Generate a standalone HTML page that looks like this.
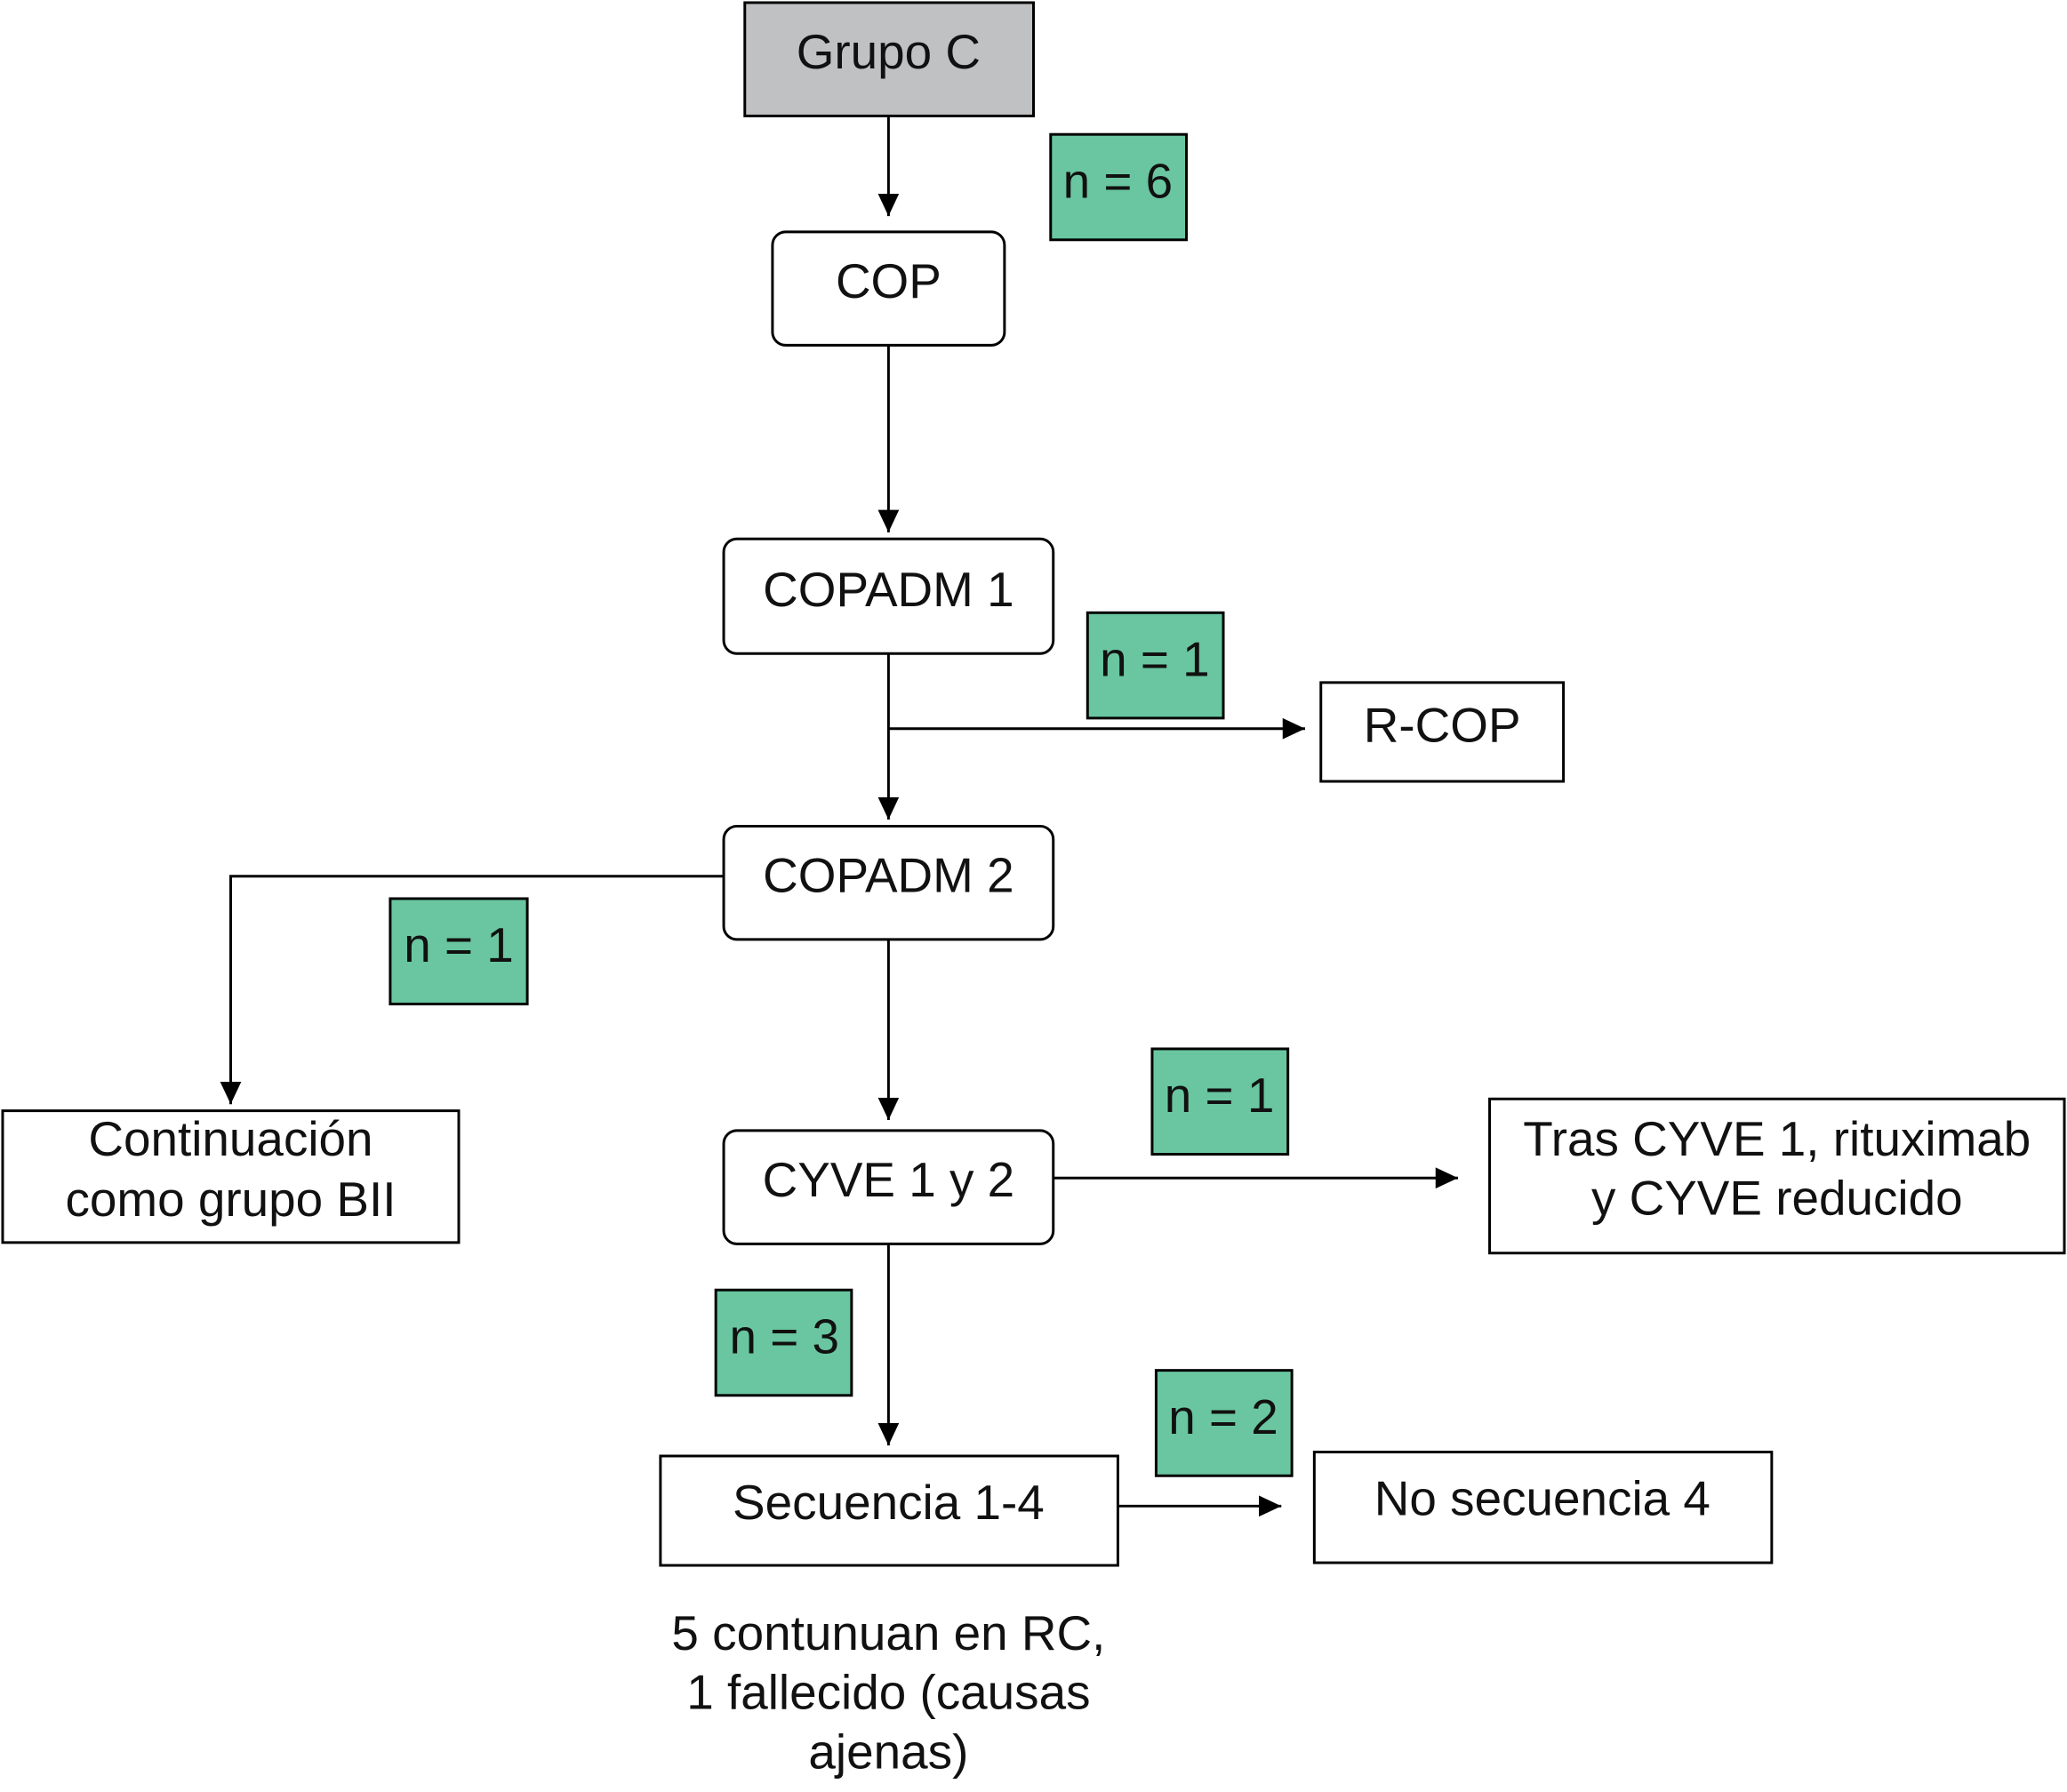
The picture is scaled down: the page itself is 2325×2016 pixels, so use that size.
<!DOCTYPE html>
<html><head><meta charset="utf-8"><style>html,body{margin:0;padding:0;background:#fff}svg{display:block}</style></head><body>
<svg width="2325" height="2016" viewBox="0 0 1568 1360" preserveAspectRatio="none" xmlns="http://www.w3.org/2000/svg" font-family="Liberation Sans, Arial, sans-serif" font-size="37" text-anchor="middle">
<defs><marker id="b" markerWidth="17" markerHeight="16" refX="17" refY="8" orient="auto" markerUnits="userSpaceOnUse"><path d="M0,0 L17,8 L0,16 z" fill="#000"/></marker></defs>
<g stroke="#000" stroke-width="2" fill="none">
<rect x="565" y="2" width="219" height="86" fill="#c0c1c3"/>
<rect x="586" y="176" width="176" height="86" rx="10" fill="#fff"/>
<rect x="549" y="409" width="250" height="87" rx="10" fill="#fff"/>
<rect x="1002" y="518" width="184" height="75" fill="#fff"/>
<rect x="549" y="627" width="250" height="86" rx="10" fill="#fff"/>
<rect x="2" y="843" width="346" height="100" fill="#fff"/>
<rect x="549" y="858" width="250" height="86" rx="10" fill="#fff"/>
<rect x="1130" y="834" width="436" height="117" fill="#fff"/>
<rect x="501" y="1105" width="347" height="83" fill="#fff"/>
<rect x="997" y="1102" width="347" height="84" fill="#fff"/>
<g fill="#69c6a0">
<rect x="797" y="102" width="103" height="80"/>
<rect x="825" y="465" width="103" height="80"/>
<rect x="296" y="682" width="104" height="80"/>
<rect x="874" y="796" width="103" height="80"/>
<rect x="543" y="979" width="103" height="80"/>
<rect x="877" y="1040" width="103" height="80"/>
</g>
<g marker-end="url(#b)">
<line x1="674" y1="88" x2="674" y2="164"/>
<line x1="674" y1="262" x2="674" y2="404"/>
<line x1="674" y1="496" x2="674" y2="622"/>
<line x1="674" y1="553" x2="990" y2="553"/>
<polyline points="549,665 175,665 175,838"/>
<line x1="674" y1="713" x2="674" y2="850"/>
<line x1="799" y1="894" x2="1106" y2="894"/>
<line x1="674" y1="944" x2="674" y2="1097"/>
<line x1="848" y1="1143" x2="972" y2="1143"/>
</g>
</g>
<g fill="#111">
<text x="674" y="52">Grupo C</text>
<text x="674" y="226">COP</text>
<text x="674" y="460">COPADM 1</text>
<text x="1094" y="563">R-COP</text>
<text x="674" y="677">COPADM 2</text>
<text x="175" y="877">Continuación</text>
<text x="175" y="923">como grupo BII</text>
<text x="674" y="908">CYVE 1 y 2</text>
<text x="1348" y="877">Tras CYVE 1, rituximab</text>
<text x="1348" y="922">y CYVE reducido</text>
<text x="674" y="1153">Secuencia 1-4</text>
<text x="1170" y="1150">No secuencia 4</text>
<text x="674" y="1252">5 contunuan en RC,</text>
<text x="674" y="1297">1 fallecido (causas</text>
<text x="674" y="1342">ajenas)</text>
<text x="848" y="150">n = 6</text>
<text x="876" y="513">n = 1</text>
<text x="348" y="730">n = 1</text>
<text x="925" y="844">n = 1</text>
<text x="595" y="1027">n = 3</text>
<text x="928" y="1088">n = 2</text>
</g>
</svg>
</body></html>
